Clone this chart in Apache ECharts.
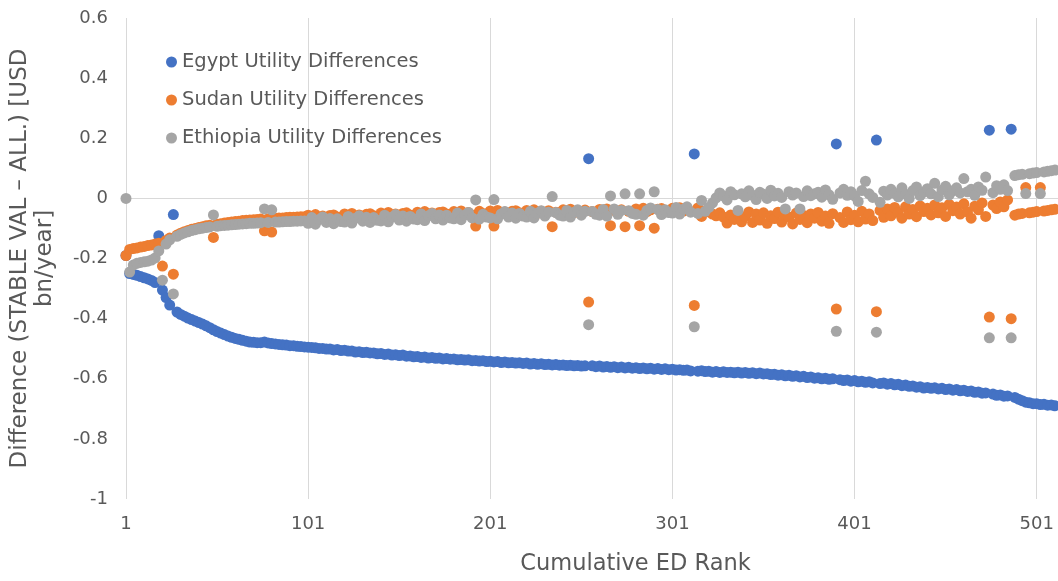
<!DOCTYPE html>
<html><head><meta charset="utf-8">
<script src="https://cdn.jsdelivr.net/npm/echarts@6/dist/echarts.min.js"></script>
<style>html,body{margin:0;padding:0;background:#fff}#c{width:1058px;height:581px}</style>
</head><body><div id="c"></div>
<script>
const seriesNames = ['Egypt Utility Differences', 'Sudan Utility Differences', 'Ethiopia Utility Differences'];
const seriesColors = ['#4472C4', '#ED7D31', '#A5A5A5'];
const xTickValues = [1, 101, 201, 301, 401, 501];
const xTitle = 'Cumulative ED Rank';
const yTitle = 'Difference (STABLE VAL \u2013 ALL.) [USD\nbn/year]';
// values are listed for ranks 1, 3, 5, ... (every second rank)
const firstRank = 1, rankStep = 2;

const egypt = [
-0.190,-0.250,-0.253,-0.256,-0.260,-0.264,-0.268,-0.273,-0.280,-0.124,
-0.305,-0.330,-0.355,-0.054,-0.378,-0.386,-0.392,-0.398,-0.403,-0.408,
-0.413,-0.418,-0.424,-0.430,-0.437,-0.443,-0.448,-0.453,-0.458,-0.462,
-0.466,-0.469,-0.472,-0.475,-0.478,-0.479,-0.480,-0.480,-0.478,-0.481,
-0.483,-0.484,-0.486,-0.487,-0.488,-0.490,-0.490,-0.492,-0.493,-0.494,
-0.495,-0.496,-0.497,-0.499,-0.499,-0.501,-0.501,-0.504,-0.503,-0.506,
-0.505,-0.508,-0.508,-0.511,-0.510,-0.513,-0.512,-0.514,-0.514,-0.517,
-0.516,-0.519,-0.518,-0.521,-0.520,-0.523,-0.521,-0.525,-0.524,-0.527,
-0.526,-0.529,-0.528,-0.531,-0.529,-0.532,-0.531,-0.534,-0.533,-0.535,
-0.534,-0.537,-0.536,-0.538,-0.537,-0.540,-0.539,-0.541,-0.540,-0.543,
-0.542,-0.544,-0.543,-0.546,-0.544,-0.547,-0.546,-0.548,-0.547,-0.549,
-0.548,-0.551,-0.549,-0.552,-0.550,-0.553,-0.552,-0.554,-0.553,-0.555,
-0.554,-0.556,-0.555,-0.557,-0.556,-0.558,-0.557,0.132,-0.557,-0.560,
-0.558,-0.561,-0.559,-0.562,-0.560,-0.563,-0.561,-0.564,-0.562,-0.565,
-0.563,-0.566,-0.564,-0.567,-0.565,-0.568,-0.566,-0.569,-0.567,-0.570,
-0.568,-0.571,-0.570,-0.572,-0.571,-0.574,0.148,-0.575,-0.573,-0.576,
-0.575,-0.578,-0.576,-0.579,-0.577,-0.579,-0.578,-0.580,-0.578,-0.581,
-0.579,-0.582,-0.580,-0.583,-0.581,-0.584,-0.583,-0.586,-0.585,-0.588,
-0.587,-0.590,-0.588,-0.592,-0.590,-0.594,-0.592,-0.596,-0.594,-0.598,
-0.597,-0.600,-0.598,-0.602,-0.600,0.181,-0.603,-0.606,-0.604,-0.608,
-0.606,-0.610,-0.608,-0.612,-0.610,-0.614,0.194,-0.616,-0.614,-0.618,
-0.616,-0.620,-0.618,-0.623,-0.621,-0.625,-0.624,-0.628,-0.627,-0.631,
-0.629,-0.632,-0.630,-0.634,-0.632,-0.636,-0.634,-0.638,-0.636,-0.640,
-0.638,-0.642,-0.641,-0.645,-0.644,-0.648,-0.647,0.227,-0.651,-0.655,
-0.654,-0.658,-0.657,0.230,-0.662,-0.668,-0.673,-0.678,-0.680,-0.683,
-0.683,-0.686,-0.685,-0.688,-0.687,-0.690,-0.689,-0.692,-0.691,-0.694
];

const sudan = [
-0.190,-0.170,-0.167,-0.165,-0.162,-0.160,-0.157,-0.155,-0.152,-0.149,
-0.225,-0.140,-0.132,-0.252,-0.122,-0.116,-0.111,-0.107,-0.103,-0.100,
-0.097,-0.094,-0.091,-0.089,-0.130,-0.086,-0.084,-0.082,-0.080,-0.079,
-0.077,-0.076,-0.074,-0.073,-0.072,-0.071,-0.070,-0.069,-0.108,-0.068,
-0.112,-0.066,-0.065,-0.065,-0.064,-0.063,-0.063,-0.062,-0.061,-0.061,
-0.056,-0.063,-0.054,-0.065,-0.059,-0.067,-0.057,-0.055,-0.062,-0.064,
-0.052,-0.059,-0.050,-0.061,-0.055,-0.063,-0.053,-0.051,-0.058,-0.060,
-0.049,-0.056,-0.047,-0.058,-0.052,-0.060,-0.050,-0.048,-0.055,-0.057,
-0.046,-0.053,-0.044,-0.055,-0.049,-0.057,-0.047,-0.045,-0.052,-0.054,
-0.044,-0.051,-0.042,-0.053,-0.047,-0.055,-0.092,-0.043,-0.050,-0.052,
-0.042,-0.092,-0.040,-0.051,-0.045,-0.053,-0.043,-0.041,-0.048,-0.050,
-0.040,-0.047,-0.038,-0.049,-0.043,-0.051,-0.041,-0.094,-0.046,-0.048,
-0.038,-0.045,-0.036,-0.047,-0.041,-0.049,-0.039,-0.345,-0.044,-0.046,
-0.037,-0.044,-0.035,-0.091,-0.040,-0.048,-0.038,-0.094,-0.043,-0.045,
-0.035,-0.091,-0.033,-0.044,-0.038,-0.099,-0.036,-0.034,-0.041,-0.043,
-0.033,-0.040,-0.031,-0.042,-0.036,-0.044,-0.356,-0.032,-0.060,-0.041,
-0.045,-0.052,-0.058,-0.048,-0.062,-0.082,-0.055,-0.070,-0.050,-0.078,
-0.060,-0.045,-0.080,-0.052,-0.072,-0.048,-0.083,-0.058,-0.067,-0.046,
-0.079,-0.055,-0.062,-0.085,-0.049,-0.070,-0.057,-0.081,-0.052,-0.066,
-0.047,-0.076,-0.059,-0.083,-0.051,-0.368,-0.064,-0.080,-0.045,-0.071,
-0.056,-0.078,-0.043,-0.069,-0.052,-0.074,-0.377,-0.040,-0.063,-0.035,
-0.058,-0.030,-0.047,-0.066,-0.028,-0.052,-0.037,-0.061,-0.025,-0.044,
-0.033,-0.055,-0.022,-0.048,-0.031,-0.060,-0.020,-0.041,-0.029,-0.052,
-0.018,-0.045,-0.066,-0.026,-0.038,-0.015,-0.060,-0.395,-0.022,-0.034,
-0.012,-0.028,-0.005,-0.400,-0.056,-0.052,-0.050,0.036,-0.048,-0.046,
-0.044,0.036,-0.042,-0.040,-0.038,-0.036,-0.034,-0.033,-0.032,-0.031
];

const ethiopia = [
0.000,-0.245,-0.222,-0.216,-0.213,-0.211,-0.209,-0.205,-0.198,-0.175,
-0.272,-0.152,-0.138,-0.318,-0.126,-0.120,-0.115,-0.111,-0.107,-0.104,
-0.101,-0.099,-0.097,-0.095,-0.055,-0.093,-0.091,-0.090,-0.089,-0.088,
-0.087,-0.086,-0.085,-0.084,-0.083,-0.083,-0.082,-0.081,-0.035,-0.080,
-0.038,-0.079,-0.079,-0.078,-0.077,-0.077,-0.076,-0.076,-0.075,-0.075,
-0.083,-0.064,-0.086,-0.070,-0.062,-0.080,-0.067,-0.084,-0.068,-0.077,
-0.079,-0.060,-0.082,-0.066,-0.058,-0.076,-0.063,-0.080,-0.064,-0.073,
-0.075,-0.056,-0.078,-0.062,-0.054,-0.072,-0.059,-0.076,-0.060,-0.069,
-0.071,-0.052,-0.074,-0.058,-0.050,-0.068,-0.055,-0.072,-0.056,-0.065,
-0.068,-0.049,-0.071,-0.055,-0.047,-0.065,-0.005,-0.069,-0.053,-0.062,
-0.065,-0.004,-0.068,-0.052,-0.044,-0.062,-0.049,-0.066,-0.050,-0.059,
-0.062,-0.043,-0.065,-0.049,-0.041,-0.059,-0.046,0.006,-0.047,-0.056,
-0.059,-0.040,-0.062,-0.046,-0.038,-0.056,-0.043,-0.420,-0.044,-0.053,
-0.056,-0.037,-0.059,0.008,-0.035,-0.053,-0.040,0.015,-0.041,-0.050,
-0.053,0.015,-0.056,-0.040,-0.032,0.022,-0.037,-0.054,-0.038,-0.047,
-0.049,-0.030,-0.052,-0.036,-0.028,-0.046,-0.427,-0.050,-0.007,-0.043,
-0.030,-0.015,0.002,0.018,0.008,-0.005,0.022,0.012,-0.040,0.015,
0.005,0.025,0.010,-0.004,0.020,0.014,0.000,0.027,0.008,0.017,
0.003,-0.035,0.022,0.011,0.018,-0.035,0.006,0.025,0.009,0.015,
0.020,0.004,0.028,0.012,-0.003,-0.442,0.018,0.030,0.010,0.022,
0.008,-0.010,0.026,0.057,0.015,0.003,-0.445,-0.013,0.024,0.011,
0.030,0.017,0.005,0.035,0.014,0.000,0.026,0.038,0.009,0.021,
0.032,0.015,0.050,0.006,0.028,0.040,0.012,0.025,0.035,0.018,
0.066,0.022,0.030,0.010,0.038,0.027,0.071,-0.464,0.019,0.042,
0.030,0.045,0.026,-0.464,0.076,0.079,0.080,0.016,0.082,0.084,
0.086,0.016,0.088,0.090,0.092,0.094,0.096,0.097,0.098,0.099
];

const FONT = 'DejaVu Sans';
const TXT = '#595959';
const clear = 'rgba(0,0,0,0)';

function toPoints(vals) {
  return vals.map((v, i) => [firstRank + rankStep * i, v]);
}

const chart = echarts.init(document.getElementById('c'), null, { renderer: 'canvas' });
chart.setOption({
  animation: false,
  backgroundColor: '#ffffff',
  textStyle: { fontFamily: FONT, color: TXT },
  grid: { left: 125, top: 18, right: 0, bottom: 76, containLabel: false },
  legend: {
    orient: 'vertical', left: 161, top: 47,
    icon: 'circle', itemWidth: 11, itemHeight: 11, itemGap: 18,
    textStyle: { color: TXT, fontSize: 19.5, fontFamily: FONT, lineHeight: 19 },
    data: seriesNames
  },
  xAxis: {
    type: 'value', min: 1, max: 512.7, interval: 100,
    axisLine: { show: false }, axisTick: { show: false },
    axisLabel: {
      color: TXT, fontSize: 18, fontFamily: FONT, margin: 16, showMaxLabel: false,
      formatter: v => xTickValues.includes(v) ? String(v) : ''
    },
    splitLine: { show: true, showMaxLine: false, lineStyle: { color: '#D9D9D9', width: 1 } },
    name: xTitle, nameLocation: 'middle', nameGap: 54,
    nameTextStyle: { color: TXT, fontSize: 22.5, fontFamily: FONT, padding: [0, 0, 0, 87] }
  },
  yAxis: {
    type: 'value', min: -1, max: 0.6, interval: 0.2,
    axisLine: { show: false }, axisTick: { show: false },
    axisLabel: { color: TXT, fontSize: 18, fontFamily: FONT, margin: 18 },
    splitLine: { show: true, lineStyle: { width: 1, color: [clear, clear, clear, clear, clear, '#D9D9D9', clear, clear, clear] } },
    name: yTitle, nameLocation: 'middle', nameRotate: 90, nameGap: 68,
    nameTextStyle: { color: TXT, fontSize: 23, fontFamily: FONT, lineHeight: 25 }
  },
  series: [egypt, sudan, ethiopia].map((vals, k) => ({
    name: seriesNames[k],
    type: 'scatter',
    symbol: 'circle',
    symbolSize: 11,
    itemStyle: { color: seriesColors[k], opacity: 1 },
    data: toPoints(vals)
  }))
});
</script>
</body></html>
